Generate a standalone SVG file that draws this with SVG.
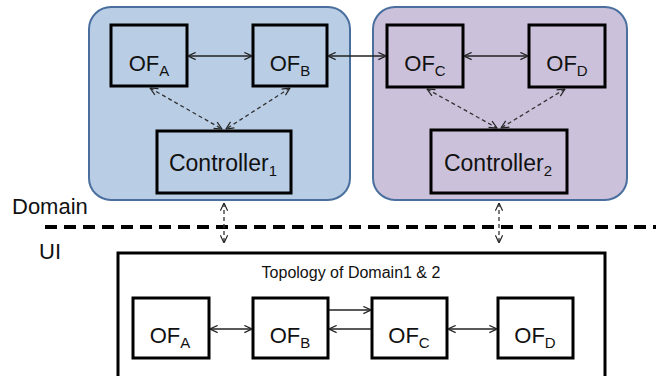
<svg xmlns="http://www.w3.org/2000/svg" width="656" height="376" viewBox="0 0 656 376">
  <style>
    .domain { stroke: #4a6f9e; stroke-width: 2; }
    .box { fill: none; stroke: #000; stroke-width: 3; }
    .lbl { font-family: "Liberation Sans", Arial, sans-serif; font-size: 22px; fill: #111; text-anchor: middle; }
    .ctr { font-size: 23px; }
    .sub { font-size: 15px; }
    .side { font-family: "Liberation Sans", Arial, sans-serif; font-size: 22px; fill: #111; }
    .title { font-family: "Liberation Sans", Arial, sans-serif; font-size: 16px; fill: #111; text-anchor: middle; }
    .link { stroke: #222; stroke-width: 1.3; fill: none; marker-start: url(#chev); marker-end: url(#chev); }
    .one { stroke: #222; stroke-width: 1.3; fill: none; marker-end: url(#chev); }
    .ctl { stroke: #333; stroke-width: 1.3; fill: none; stroke-dasharray: 4 3; marker-start: url(#chev); marker-end: url(#chev); }
  </style>
  <defs>
    <marker id="chev" viewBox="0 0 10 10" refX="9.5" refY="5" markerWidth="9" markerHeight="9" markerUnits="userSpaceOnUse" orient="auto-start-reverse">
      <path d="M1,1 L9.5,5 L1,9" fill="none" stroke="#222" stroke-width="1.3"/>
    </marker>
  </defs>

  <rect width="656" height="376" fill="#fff"/>

  <!-- domain containers -->
  <g id="domain1">
    <rect class="domain" x="89" y="7" width="261" height="193" rx="22" fill="#b9cde5"/>
  </g>
  <g id="domain2">
    <rect class="domain" x="373" y="7" width="254" height="193" rx="22" fill="#ccc1da"/>
  </g>

  <!-- switches and controllers of the domains -->
  <g id="ofA">
    <rect class="box" x="111" y="25" width="76" height="61"/>
    <text class="lbl" x="149" y="71">OF<tspan class="sub" dy="5">A</tspan></text>
  </g>
  <g id="ofB">
    <rect class="box" x="253" y="25" width="74" height="61"/>
    <text class="lbl" x="290" y="71">OF<tspan class="sub" dy="5">B</tspan></text>
  </g>
  <g id="ofC">
    <rect class="box" x="387" y="25" width="76" height="62"/>
    <text class="lbl" x="425" y="71">OF<tspan class="sub" dy="5">C</tspan></text>
  </g>
  <g id="ofD">
    <rect class="box" x="529" y="25" width="76" height="62"/>
    <text class="lbl" x="567" y="71">OF<tspan class="sub" dy="5">D</tspan></text>
  </g>
  <g id="controller1">
    <rect class="box" x="157" y="131" width="134" height="62"/>
    <text class="lbl ctr" x="223" y="171">Controller<tspan class="sub" dy="5">1</tspan></text>
  </g>
  <g id="controller2">
    <rect class="box" x="431" y="130" width="136" height="63"/>
    <text class="lbl ctr" x="498" y="171">Controller<tspan class="sub" dy="5">2</tspan></text>
  </g>

  <!-- layer separator -->
  <g id="separator">
    <line x1="45" y1="227" x2="656" y2="227" stroke="#000" stroke-width="4" stroke-dasharray="12 7"/>
    <text class="side" x="12" y="214">Domain</text>
    <text class="side" x="39" y="259">UI</text>
  </g>

  <!-- UI topology view -->
  <g id="topology">
    <rect x="118" y="253" width="487" height="130" fill="#fff" stroke="#000" stroke-width="3"/>
    <text class="title" x="351" y="278">Topology of Domain1 &amp; 2</text>
  </g>
  <g id="uiA">
    <rect class="box" x="133" y="298" width="76" height="60"/>
    <text class="lbl" x="170" y="343">OF<tspan class="sub" dy="5">A</tspan></text>
  </g>
  <g id="uiB">
    <rect class="box" x="253" y="298" width="75" height="60"/>
    <text class="lbl" x="290" y="343">OF<tspan class="sub" dy="5">B</tspan></text>
  </g>
  <g id="uiC">
    <rect class="box" x="372" y="298" width="75" height="60"/>
    <text class="lbl" x="409" y="343">OF<tspan class="sub" dy="5">C</tspan></text>
  </g>
  <g id="uiD">
    <rect class="box" x="498" y="298" width="75" height="60"/>
    <text class="lbl" x="535" y="343">OF<tspan class="sub" dy="5">D</tspan></text>
  </g>

  <!-- connectors -->
  <g id="connectors">
    <line class="link" x1="188" y1="56" x2="252" y2="56"/>
    <line class="link" x1="328" y1="56" x2="386" y2="56"/>
    <line class="link" x1="464" y1="56" x2="528" y2="56"/>

    <line class="ctl" x1="150" y1="88" x2="222" y2="129"/>
    <line class="ctl" x1="290" y1="88" x2="226" y2="129"/>
    <line class="ctl" x1="427" y1="89" x2="497" y2="128"/>
    <line class="ctl" x1="565" y1="89" x2="501" y2="128"/>

    <line class="ctl" x1="224" y1="203" x2="224" y2="243"/>
    <line class="ctl" x1="499" y1="203" x2="499" y2="243"/>

    <line class="link" x1="210" y1="329" x2="252" y2="329"/>
    <line class="one" x1="329" y1="310" x2="371" y2="310"/>
    <line class="one" x1="371" y1="329" x2="329" y2="329"/>
    <line class="link" x1="448" y1="329" x2="497" y2="329"/>
  </g>
</svg>
